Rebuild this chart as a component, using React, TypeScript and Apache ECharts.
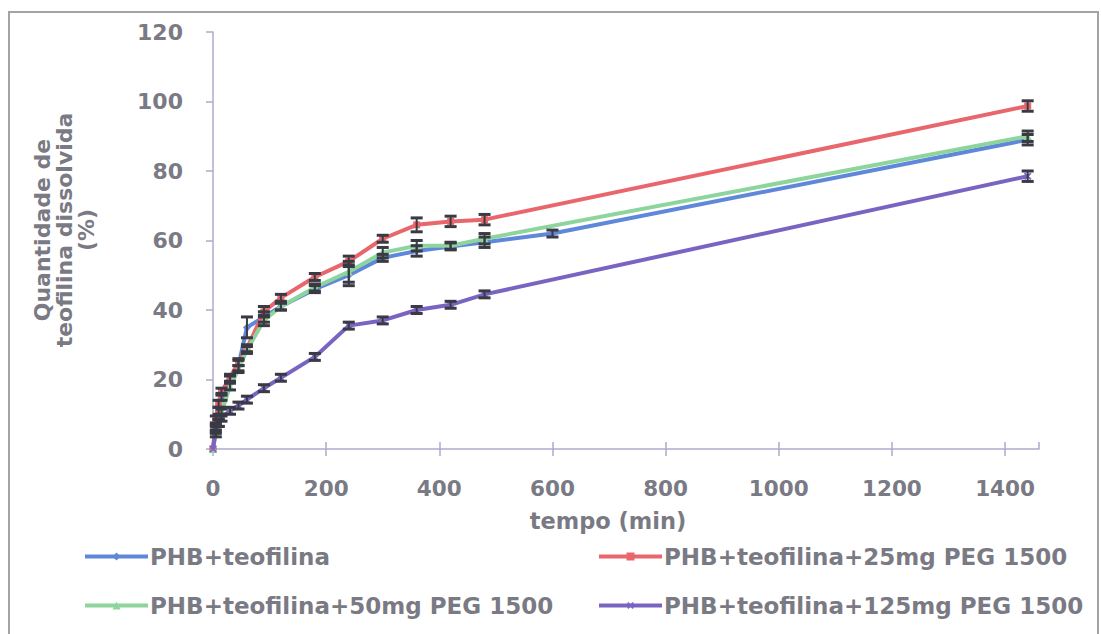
import React, { useEffect, useRef } from "react";
import * as echarts from "echarts";

const TIMES = [0, 5, 10, 15, 30, 45, 60, 90, 120, 180, 240, 300, 360, 420, 480, 1440];
const TIMES_PHB = [0, 5, 10, 15, 30, 45, 60, 90, 120, 180, 240, 300, 360, 420, 480, 600, 1440];

const PHB = [0, 6, 11, 15, 20, 24, 35, 38, 41, 46, 50, 55, 57, 58.3, 59.5, 62, 89];
const PHB_ERR = [0, 1, 1, 1, 1, 1.5, 3, 1.5, 1, 1, 3, 1, 1.5, 1, 1.5, 1, 1.5];
const PEG25 = [0, 8.5, 13, 16.5, 20.5, 25, 29, 39.5, 43.5, 49.5, 54, 60.5, 64.5, 65.5, 66, 98.7];
const PEG25_ERR = [0, 1, 1, 1, 1, 1, 1, 1.5, 1, 1, 1.5, 1, 2, 1.5, 1.5, 1.5];
const PEG50 = [0, 4.5, 7.5, 10.5, 18, 23, 28.5, 37, 41, 46.5, 51, 56.5, 58.5, 58.5, 60.5, 90];
const PEG50_ERR = [0, 1, 1, 1, 1, 1, 1, 1.5, 1, 1, 3, 1.5, 1.5, 1, 1.5, 1.5];
const PEG125 = [0, 5.5, 7.5, 9, 11, 12.5, 14.2, 17.5, 20.5, 26.5, 35.5, 37, 40, 41.5, 44.5, 78.5];
const PEG125_ERR = [0, 1, 1, 1, 1, 1, 1, 1, 1, 1, 1, 1, 1, 1, 1, 1.5];

const NAMES = [
  "PHB+teofilina",
  "PHB+teofilina+25mg PEG 1500",
  "PHB+teofilina+50mg PEG 1500",
  "PHB+teofilina+125mg PEG 1500",
];
const COLORS = ["#5F87DA", "#E8666C", "#8DD59C", "#7A64C2"];
const Y_TICKS = [0, 20, 40, 60, 80, 100, 120];

const FONT = "DejaVu Sans";
const TXT = "#7a7a84";
const AXIS = "#ABABCB";

export default function App() {
  const ref = useRef<HTMLDivElement>(null);
  useEffect(() => {
    if (!ref.current) return;
    const chart = echarts.init(ref.current, null, { renderer: "svg" });
    const sets = [
      { t: TIMES_PHB, v: PHB, e: PHB_ERR, sym: "diamond", size: 8 },
      { t: TIMES, v: PEG25, e: PEG25_ERR, sym: "rect", size: 7 },
      { t: TIMES, v: PEG50, e: PEG50_ERR, sym: "triangle", size: 8 },
      {
        t: TIMES,
        v: PEG125,
        e: PEG125_ERR,
        sym: "path://M4,0H6V4H10V6H6V10H4V6H0V4H4Z",
        size: 9,
      },
    ];
    const lineSeries = sets.map((s, i) => ({
      type: "line",
      name: NAMES[i],
      data: s.t.map((t, j) => [t, s.v[j]]),
      symbol: s.sym,
      symbolSize: s.size,
      symbolRotate: i === 3 ? 45 : 0,
      lineStyle: { width: 4, color: COLORS[i] },
      itemStyle: { color: COLORS[i] },
      z: 3 + i,
    }));
    const errSeries = sets.map((s, i) => ({
      type: "custom",
      name: "err" + i,
      data: s.t.map((t, j) => [t, s.v[j], s.e[j]]),
      encode: { x: 0, y: 1 },
      z: 10,
      silent: true,
      renderItem: (params: any, api: any) => {
        const x = api.value(0);
        const y = api.value(1);
        const e = api.value(2);
        if (!e) return null;
        const top = api.coord([x, y + e]);
        const bot = api.coord([x, y - e]);
        const hw = 6;
        const st = { stroke: "#3a3a44", lineWidth: 2 };
        return {
          type: "group",
          children: [
            { type: "line", shape: { x1: top[0], y1: top[1], x2: bot[0], y2: bot[1] }, style: st },
            { type: "line", shape: { x1: top[0] - hw, y1: top[1], x2: top[0] + hw, y2: top[1] }, style: { ...st, lineWidth: 3 } },
            { type: "line", shape: { x1: bot[0] - hw, y1: bot[1], x2: bot[0] + hw, y2: bot[1] }, style: { ...st, lineWidth: 3 } },
          ],
        };
      },
    }));

    const legendPos = [
      { left: 83, top: 545 },
      { left: 597, top: 545 },
      { left: 83, top: 594 },
      { left: 597, top: 594 },
    ];
    const legends = NAMES.map((n, i) => ({
      data: [n],
      left: legendPos[i].left,
      top: legendPos[i].top,
      itemWidth: 63,
      itemHeight: 10,
      padding: 0,
      itemGap: 0,
      lineStyle: { width: 4 },
      textStyle: { fontFamily: FONT, fontWeight: "bold", fontSize: 23, color: TXT, padding: [0, 0, 0, -3] },
      selectedMode: false,
    }));

    const xCommon = {
      type: "value",
      min: 0,
      max: 1460,
      interval: 200,
      splitLine: { show: false },
    };

    chart.setOption({
      animation: false,
      backgroundColor: "#ffffff",
      grid: { left: 213, top: 32, right: 62, bottom: 185 },
      legend: legends,
      xAxis: [
        {
          ...xCommon,
          axisLine: { lineStyle: { color: AXIS, width: 1.5 } },
          axisTick: { length: 7, lineStyle: { color: AXIS, width: 1.5 } },
          axisLabel: {
            showMaxLabel: false,
            margin: 28,
            fontFamily: FONT,
            fontWeight: "bold",
            fontSize: 21.5,
            color: TXT,
            formatter: (v: number) => String(v),
          },
        },
        {
          ...xCommon,
          position: "bottom",
          axisLine: { show: false },
          axisTick: { inside: true, length: 7, lineStyle: { color: AXIS, width: 1.5 } },
          axisLabel: { show: false },
        },
      ],
      yAxis: {
        type: "value",
        min: Y_TICKS[0],
        max: Y_TICKS[Y_TICKS.length - 1],
        interval: 20,
        splitLine: { show: false },
        axisLine: { show: true, lineStyle: { color: AXIS, width: 1.5 } },
        axisTick: { show: true, length: 7, lineStyle: { color: AXIS, width: 1.5 } },
        axisLabel: {
          margin: 30,
          fontFamily: FONT,
          fontWeight: "bold",
          fontSize: 22,
          color: TXT,
        },
      },
      graphic: [
        {
          type: "rect",
          shape: { x: 9, y: 12, width: 1089, height: 640 },
          style: { fill: "none", stroke: "#a4a4a4", lineWidth: 2 },
          z: -1,
        },
        {
          type: "text",
          x: 64,
          y: 230,
          rotation: Math.PI / 2,
          style: {
            text: "Quantidade de\nteofilina dissolvida\n(%)",
            fontFamily: FONT,
            fontWeight: "bold",
            fontSize: 22,
            lineHeight: 22,
            fill: TXT,
            align: "center",
            verticalAlign: "middle",
          },
        },
        {
          type: "text",
          x: 608,
          y: 521,
          style: {
            text: "tempo (min)",
            fontFamily: FONT,
            fontWeight: "bold",
            fontSize: 22.5,
            fill: TXT,
            align: "center",
            verticalAlign: "middle",
          },
        },
      ],
      series: [...lineSeries, ...errSeries],
    });
    return () => chart.dispose();
  }, []);
  return (
    <div
      ref={ref}
      style={{ position: "fixed", left: 0, top: 0, width: 1101, height: 634 }}
    />
  );
}
